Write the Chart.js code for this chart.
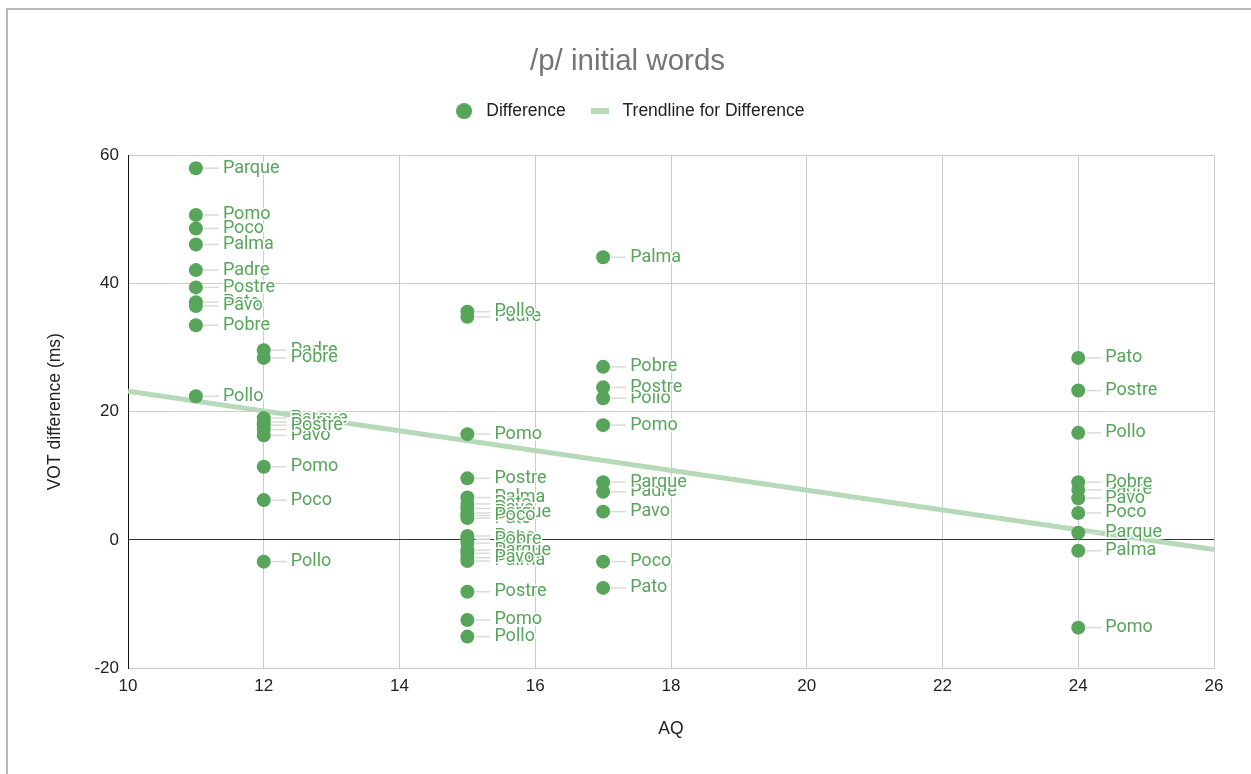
<!DOCTYPE html>
<html>
<head>
<meta charset="utf-8">
<title>/p/ initial words</title>
<script src="https://cdn.jsdelivr.net/npm/chart.js@4.4.0/dist/chart.umd.min.js"></script>
<style>
  html, body { margin: 0; padding: 0; background: #fff; }
  #wrap { position: relative; width: 1251px; height: 774px; overflow: hidden; }
  #chart { position: absolute; left: 0; top: 0; }
  #frame {
    position: absolute; left: 6px; top: 8px; width: 1400px; height: 900px;
    border-left: 2px solid #b9b9b9; border-top: 2px solid #b9b9b9;
    pointer-events: none;
  }
</style>
</head>
<body>
<div id="wrap">
  <canvas id="chart" width="1251" height="774"></canvas>
  <div id="frame"></div>
</div>
<script>
/* ── Data ──────────────────────────────────────────────────── */
const aqScores = [
    11, 11, 11, 11, 11, 11, 11, 11, 11, 11,
    12, 12, 12, 12, 12, 12, 12, 12, 12, 12,
    15, 15, 15, 15, 15, 15, 15, 15, 15, 15,
    15, 15, 15, 15, 15, 15, 15, 15, 15, 15,
    17, 17, 17, 17, 17, 17, 17, 17, 17, 17,
    24, 24, 24, 24, 24, 24, 24, 24, 24, 24,
];
const votDiffs = [
    58.0, 50.7, 48.6, 46.1, 42.1, 39.4, 37.1, 36.5, 33.5, 22.4,
    29.6, 28.4, 19.0, 18.4, 17.2, 16.3, 17.9, 11.4, 6.2, -3.4,
    34.8, 35.6, 16.5, 9.6, 6.6, 5.6, 4.9, 4.2, 3.4, 3.8,
    0.6, -0.5, 0.1, -2.1, -3.3, -1.6, -2.8, -8.1, -12.5, -15.1,
    44.1, 27.0, 22.1, 23.8, 17.9, 7.5, 9.0, 4.4, -3.4, -7.5,
    28.4, 23.3, 16.7, 7.8, 9.0, 6.5, 4.2, 1.1, -1.7, -13.7,
];
const words = [
    'Parque', 'Pomo', 'Poco', 'Palma', 'Padre', 'Postre', 'Pato', 'Pavo', 'Pobre', 'Pollo',
    'Padre', 'Pobre', 'Parque', 'Palma', 'Pato', 'Pavo', 'Postre', 'Pomo', 'Poco', 'Pollo',
    'Padre', 'Pollo', 'Pomo', 'Postre', 'Palma', 'Pato', 'Pavo', 'Parque', 'Pato', 'Poco',
    'Poco', 'Pobre', 'Pobre', 'Padre', 'Palma', 'Parque', 'Pavo', 'Postre', 'Pomo', 'Pollo',
    'Palma', 'Pobre', 'Pollo', 'Postre', 'Pomo', 'Padre', 'Parque', 'Pavo', 'Poco', 'Pato',
    'Pato', 'Postre', 'Pollo', 'Padre', 'Pobre', 'Pavo', 'Poco', 'Parque', 'Palma', 'Pomo',
];
const trendAq  = [10, 26];
const trendVot = [23.2, -1.5];
const xTickValues = [10, 12, 14, 16, 18, 20, 22, 24, 26];
const yTickValues = [-20, 0, 20, 40, 60];

/* ── Palette ───────────────────────────────────────────────── */
const GREEN = '#57a55a';
const TREND = '#b6d9b7';
const LEADER = '#dadada';
const TEXT = '#222222';
const FONT = 'Arial, "Liberation Sans"';

function swatch(w, h, draw) {
    const c = document.createElement('canvas');
    c.width = w; c.height = h;
    draw(c.getContext('2d'));
    return c;
}
const dotSwatch = swatch(16, 16, g => {
    g.fillStyle = GREEN;
    g.beginPath(); g.arc(8, 8, 8, 0, Math.PI * 2); g.fill();
});
const barSwatch = swatch(18, 6, g => {
    g.fillStyle = TREND;
    g.fillRect(0, 0, 18, 6);
});

/* word labels with leader lines, drawn after the points */
const pointLabels = {
    id: 'pointLabels',
    afterDatasetsDraw(chart) {
        const meta = chart.getDatasetMeta(0);
        const ctx = chart.ctx;
        ctx.save();
        ctx.font = '18px Roboto';
        ctx.textBaseline = 'middle';
        ctx.lineJoin = 'round';
        meta.data.forEach((pt, i) => {
            const {x, y} = pt.getProps(['x', 'y'], true);
            ctx.strokeStyle = LEADER;
            ctx.lineWidth = 1.5;
            ctx.beginPath(); ctx.moveTo(x + 8, y); ctx.lineTo(x + 23, y); ctx.stroke();
            ctx.strokeStyle = '#fff';
            ctx.lineWidth = 3;
            ctx.strokeText(words[i], x + 27, y);
            ctx.fillStyle = GREEN;
            ctx.fillText(words[i], x + 27, y);
        });
        ctx.restore();
    }
};

/* extra room below the legend */
const legendGap = {
    id: 'legendGap',
    beforeInit(chart) {
        if (!chart.legend) return;
        const fit = chart.legend.fit;
        chart.legend.fit = function () {
            fit.call(this);
            this.height += 25.5;
        };
    }
};

new Chart(document.getElementById('chart'), {
    data: {
        datasets: [
            {
                type: 'scatter',
                label: 'Difference',
                data: aqScores.map((x, i) => ({x, y: votDiffs[i]})),
                backgroundColor: GREEN,
                borderWidth: 0,
                pointRadius: 7,
                pointHoverRadius: 7,
                order: 1,
            },
            {
                type: 'line',
                label: 'Trendline for Difference',
                data: trendAq.map((x, i) => ({x, y: trendVot[i]})),
                borderColor: TREND,
                borderWidth: 5,
                pointRadius: 0,
                fill: false,
                order: 2,
            },
        ],
    },
    options: {
        responsive: false,
        animation: false,
        layout: { padding: { top: 35, left: 41, right: 37, bottom: 30 } },
        plugins: {
            title: {
                display: true,
                text: '/p/ initial words',
                color: '#757575',
                font: { family: FONT, size: 29.5, weight: 'normal' },
                padding: { top: 9, bottom: 2 },
            },
            legend: {
                position: 'top',
                labels: {
                    color: TEXT,
                    font: { family: FONT, size: 17.5 },
                    usePointStyle: true,
                    pointStyleWidth: 27,
                    boxHeight: 11,
                    padding: 21,
                    generateLabels: () => [
                        { text: 'Difference', pointStyle: dotSwatch, fillStyle: GREEN, lineWidth: 0, fontColor: TEXT, datasetIndex: 0 },
                        { text: 'Trendline for Difference', pointStyle: barSwatch, fillStyle: TREND, lineWidth: 0, fontColor: TEXT, datasetIndex: 1 },
                    ],
                },
            },
            tooltip: { enabled: false },
        },
        scales: {
            x: {
                type: 'linear',
                min: 10,
                max: 26,
                afterBuildTicks: s => { s.ticks = xTickValues.map(v => ({value: v})); },
                afterFit: s => { s.height = 76; },
                grid: { color: '#cccccc', drawTicks: false },
                border: { color: '#cccccc' },
                ticks: {
                    color: TEXT,
                    padding: 8,
                    font: { family: FONT, size: 17 },
                },
                title: {
                    display: true,
                    text: 'AQ',
                    color: TEXT,
                    font: { family: FONT, size: 17.5 },
                },
            },
            y: {
                type: 'linear',
                min: -20,
                max: 60,
                afterBuildTicks: s => { s.ticks = yTickValues.map(v => ({value: v})); },
                afterFit: s => { s.width = 87; },
                grid: {
                    color: ctx => ctx.tick && ctx.tick.value === 0 ? '#333333' : '#cccccc',
                    drawTicks: false,
                },
                border: { color: '#111111' },
                ticks: {
                    color: TEXT,
                    padding: 9,
                    font: { family: FONT, size: 17 },
                },
                title: {
                    display: true,
                    text: 'VOT difference (ms)',
                    color: TEXT,
                    font: { family: FONT, size: 17.5 },
                },
            },
        },
    },
    plugins: [pointLabels, legendGap],
});
</script>
</body>
</html>
